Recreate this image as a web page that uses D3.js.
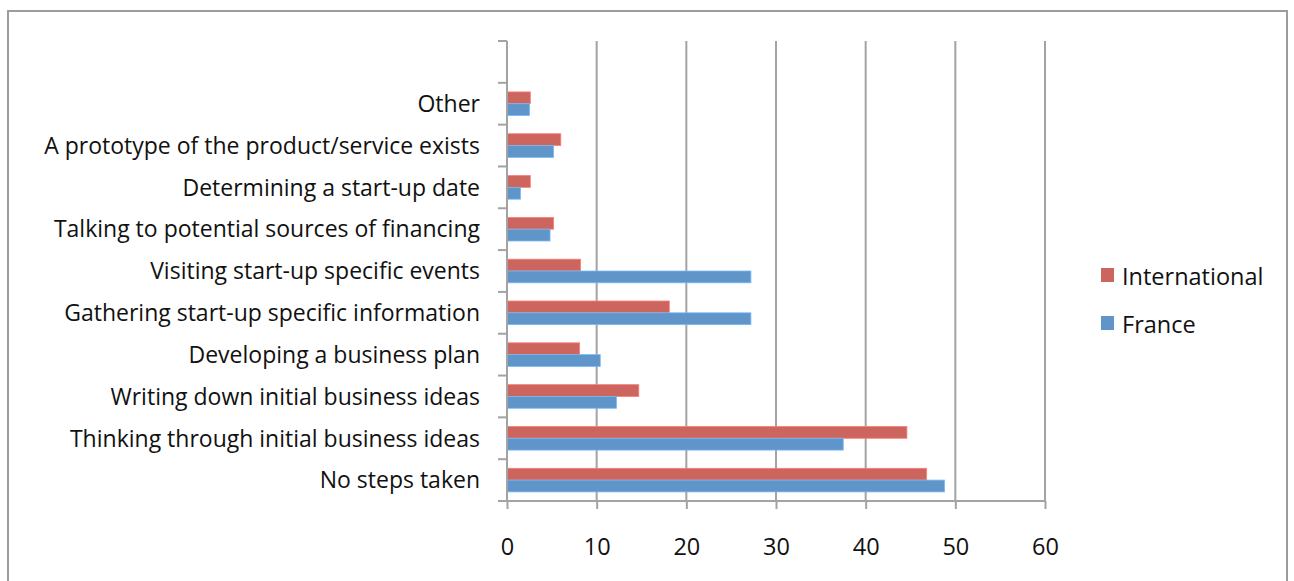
<!DOCTYPE html>
<html>
<head>
<meta charset="utf-8">
<script src="https://cdn.jsdelivr.net/npm/d3@7"></script>
<style>
  body { margin: 0; background: #fff; }
  text { font-family: "Open Sans", "Noto Sans", sans-serif; fill: #111; }
</style>
</head>
<body>
<svg id="chart" width="1294" height="581"></svg>
<script>
// Start-up steps taken, share of respondents (%), bottom to top
const categories = [
  "No steps taken",
  "Thinking through initial business ideas",
  "Writing down initial business ideas",
  "Developing a business plan",
  "Gathering start-up specific information",
  "Visiting start-up specific events",
  "Talking to potential sources of financing",
  "Determining a start-up date",
  "A prototype of the product/service exists",
  "Other ",
  ""
];
const international = [46.8, 44.6, 14.7, 8.1, 18.1, 8.2, 5.2, 2.6, 6.0, 2.6, null];
const france        = [48.8, 37.5, 12.2, 10.4, 27.2, 27.2, 4.8, 1.5, 5.2, 2.5, null];
const seriesNames = ["International", "France"];
const seriesColors = ["#cd655f", "#5f95c9"];
const xTicks = [0, 10, 20, 30, 40, 50, 60];

const svg = d3.select("#chart");
const plotLeft = 507, plotRight = 1045, plotTop = 41, plotBottom = 501;

// outer frame
svg.append("rect").attr("x", 8).attr("y", 11).attr("width", 1279).attr("height", 590)
  .attr("fill", "none").attr("stroke", "#9c9c9c").attr("stroke-width", 2);

const x = d3.scaleLinear().domain([0, 60]).range([plotLeft, plotRight]);
const y = d3.scaleBand().domain(categories.map((c, i) => i)).range([plotBottom, plotTop]);
const inner = d3.scaleBand().domain([0, 1]).range([0, y.bandwidth()]).paddingOuter(0.77).paddingInner(0);

// vertical gridlines
svg.append("g").selectAll("line").data(xTicks.slice(1)).join("line")
  .attr("x1", d => x(d)).attr("x2", d => x(d)).attr("y1", plotTop).attr("y2", plotBottom)
  .attr("stroke", "#a3a3a3").attr("stroke-width", 2);

// bars
const rows = categories.map((c, i) => ({ i, vals: [international[i], france[i]] }));
const g = svg.append("g");
rows.forEach(r => {
  r.vals.forEach((v, s) => {
    if (v == null) return;
    g.append("rect")
      .attr("x", x(0))
      .attr("y", y(r.i) + inner(s))
      .attr("width", x(v) - x(0))
      .attr("height", inner.bandwidth())
      .attr("fill", seriesColors[s])
      .attr("stroke", d3.color(seriesColors[s]).brighter(0.6))
      .attr("stroke-width", 0.8);
  });
});

// value axis (bottom)
const xAxis = svg.append("g").attr("transform", `translate(0,${plotBottom})`)
  .call(d3.axisBottom(x).tickValues(xTicks).tickSize(8).tickPadding(29));
xAxis.select(".domain").attr("stroke", "#a3a3a3").attr("stroke-width", 2).attr("d", `M${plotLeft - 8},0H${plotRight}`);
xAxis.selectAll(".tick line").attr("stroke", "#a3a3a3").attr("stroke-width", 2);
xAxis.selectAll(".tick text").style("font-size", "23.5px").attr("fill", "#111");

// category axis (left)
const yAxis = svg.append("g").attr("transform", `translate(${plotLeft},0)`)
  .call(d3.axisLeft(y).tickSize(0).tickPadding(27).tickFormat(i => categories[i]));
yAxis.select(".domain").attr("stroke", "#a3a3a3").attr("stroke-width", 2).attr("d", `M0,${plotTop}V${plotBottom}`);
yAxis.selectAll(".tick text").style("font-size", "23px").attr("dy", "0.36em").attr("fill", "#111");
// tick marks between categories
const bounds = d3.range(categories.length + 1).map(k => plotBottom - k * y.step());
yAxis.append("g").selectAll("line").data(bounds).join("line")
  .attr("x1", -9).attr("x2", 0).attr("y1", d => d).attr("y2", d => d)
  .attr("stroke", "#a3a3a3").attr("stroke-width", 2);

// legend
const legend = svg.append("g").attr("transform", "translate(1101,268)");
seriesNames.forEach((n, s) => {
  const lg = legend.append("g").attr("transform", `translate(0,${s * 48})`);
  lg.append("rect").attr("width", 13).attr("height", 14).attr("fill", seriesColors[s]);
  lg.append("text").attr("x", 21).attr("y", 17).style("font-size", "23.5px").text(n);
});
</script>
</body>
</html>
